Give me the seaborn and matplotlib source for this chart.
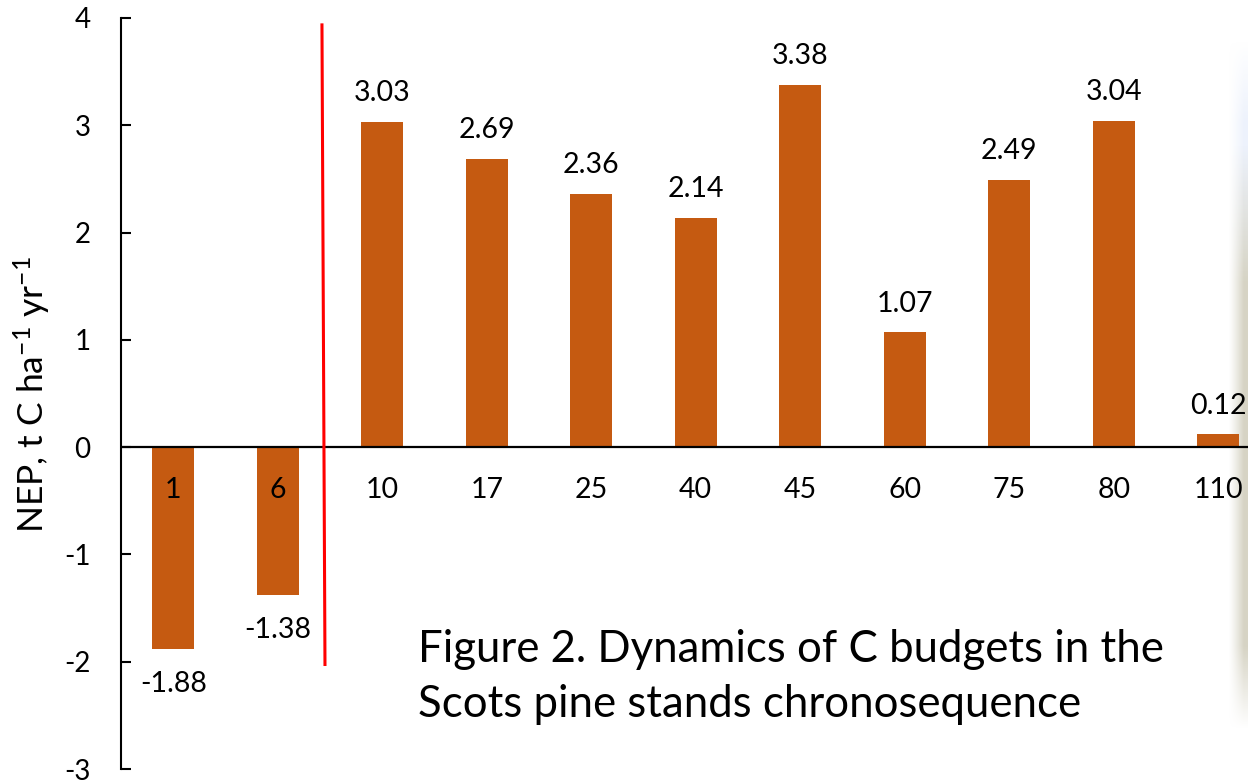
import numpy as np
import pandas as pd
import matplotlib
matplotlib.use("Agg")
import matplotlib.pyplot as plt
import seaborn as sns

# Stand age (years) and net ecosystem production
ages = ["1", "6", "10", "17", "25", "40", "45", "60", "75", "80", "110"]
nep = [-1.88, -1.38, 3.03, 2.69, 2.36, 2.14, 3.38, 1.07, 2.49, 3.04, 0.12]
value_labels = ["-1.88", "-1.38", "3.03", "2.69", "2.36", "2.14", "3.38",
                "1.07", "2.49", "3.04", "0.12"]
y_ticks = [-3, -2, -1, 0, 1, 2, 3, 4]
y_label = "NEP, t C ha$^{-1}$ yr$^{-1}$"
caption = ["Figure 2. Dynamics of C budgets in the",
           "Scots pine stands chronosequence"]

BAR_COLOR = "#C55A11"
FONT = "Lato"
LABEL_SIZE = 20.5

sns.set_theme(style="white")
plt.rcParams["font.family"] = [FONT, "DejaVu Sans"]
plt.rcParams["mathtext.fontset"] = "custom"
plt.rcParams["mathtext.rm"] = FONT
plt.rcParams["mathtext.it"] = FONT
plt.rcParams["mathtext.default"] = "regular"
plt.rcParams["axes.unicode_minus"] = False

W, H = 1248, 781
fig = plt.figure(figsize=(W / 100, H / 100), dpi=100)
fig.patch.set_facecolor("white")

# Axes: left spine at x=121 px, y from 4 (top, 18 px) to -3 (bottom, 769 px)
ax = fig.add_axes([121 / W, 12 / H, 1149.5 / W, 751 / H])
ax.set_facecolor("none")

df = pd.DataFrame({"age": ages, "nep": nep})
sns.barplot(data=df, x="age", y="nep", order=ages, color=BAR_COLOR,
            width=0.4, saturation=1, ax=ax, linewidth=0)

ax.set_xlim(-0.5, 10.5)
ax.set_ylim(-3, 4)
ax.set_yticks(y_ticks)
ax.set_yticklabels([str(t) for t in y_ticks])
ax.set_xticks([])
ax.set_xlabel("")
ax.set_ylabel("")

for s in ["top", "right", "bottom"]:
    ax.spines[s].set_visible(False)
ax.spines["left"].set_color("black")
ax.spines["left"].set_linewidth(1.5)
ax.tick_params(axis="y", direction="in", length=7.5, width=1.5,
               color="black", pad=22, labelsize=20, labelcolor="black",
               left=True)

# zero line
ax.axhline(0, color="black", lw=1.6, zorder=3)

# value labels and stand-age labels
for i, (v, lab, age) in enumerate(zip(nep, value_labels, ages)):
    if v >= 0:
        ax.annotate(lab, xy=(i, v), xytext=(0, 14.9), textcoords="offset points",
                    ha="center", va="baseline", fontsize=LABEL_SIZE, color="black")
    else:
        ax.annotate(lab, xy=(i, v), xytext=(0, -31), textcoords="offset points",
                    ha="center", va="baseline", fontsize=LABEL_SIZE, color="black")
    ax.annotate(age, xy=(i, 0), xytext=(0, -36.7), textcoords="offset points",
                ha="center", va="baseline", fontsize=LABEL_SIZE, color="black",
                zorder=4)

# red divider between the young and older stands
divider_x = [1.423, 1.452]
divider_y = [3.95, -2.04]
ax.plot(divider_x, divider_y, color="#FF0000", lw=2.2, zorder=5,
        solid_capstyle="butt")

# y-axis title
fig.text(45 / W, 1 - 395 / H, y_label, rotation=90, rotation_mode="anchor",
         ha="center", va="baseline", fontsize=25.5, color="black")

# caption
fig.text(418 / W, 1 - 662 / H, caption[0], ha="left", va="baseline",
         fontsize=31.5, color="black")
fig.text(418 / W, 1 - 717 / H, caption[1], ha="left", va="baseline",
         fontsize=31.5, color="black")

# soft backdrop strip at the right edge
bg = fig.add_axes([1222 / W, 1 - 730 / H, 26 / W, 690 / H], zorder=-1)
bg.set_axis_off()
ny, nx = 200, 40
yy = np.linspace(0, 1, ny)[:, None]
xx = np.linspace(0, 1, nx)[None, :]
top_col = np.array([0.93, 0.95, 0.99])
mid_col = np.array([0.84, 0.83, 0.77])
mix = np.clip((yy - 0.15) / 0.2, 0, 1)[..., None]
rgb = top_col * (1 - mix) + mid_col * mix
rgb = np.broadcast_to(rgb, (ny, nx, 3))
alpha = np.clip((xx - 0.25) / 0.6, 0, 1) ** 1.2
vfade = np.clip(yy / 0.12, 0, 1) * np.clip((1 - yy) / 0.12, 0, 1)
alpha = alpha * vfade
img = np.dstack([rgb, alpha])
bg.imshow(img, aspect="auto", extent=(0, 1, 0, 1), interpolation="bilinear")
bg.set_xlim(0, 1)
bg.set_ylim(0, 1)

fig.savefig("out.png", dpi=100, facecolor="white")
